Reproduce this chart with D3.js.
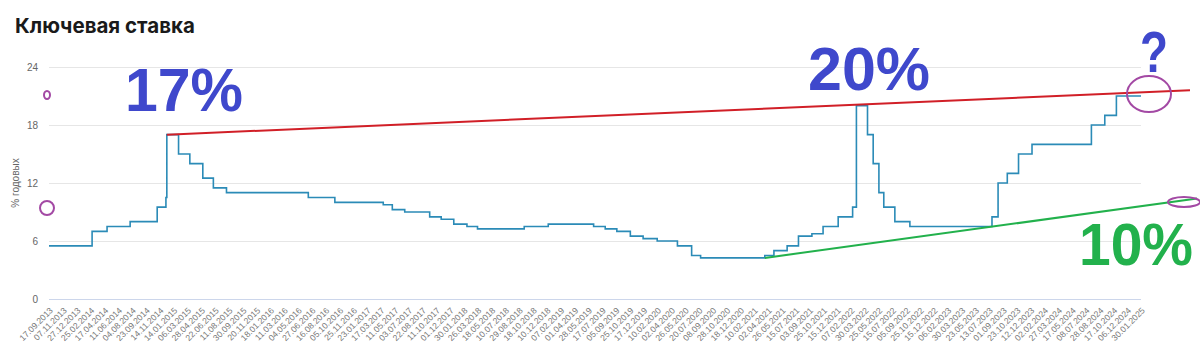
<!DOCTYPE html>
<html>
<head>
<meta charset="utf-8">
<script src="https://cdn.jsdelivr.net/npm/d3@7"></script>
<style>
  html, body { margin: 0; padding: 0; background: #fff; }
  svg { display: block; font-family: "Liberation Sans", Arial, sans-serif; }
</style>
</head>
<body>
<svg id="chart" width="1200" height="351"></svg>
<script>
// --- data
const tickLabels = ["17.09.2013","07.11.2013","27.12.2013","25.02.2014","17.04.2014","11.06.2014","04.08.2014","23.09.2014","14.11.2014","14.01.2015","06.03.2015","28.04.2015","22.06.2015","11.08.2015","30.09.2015","20.11.2015","18.01.2016","11.03.2016","04.05.2016","27.06.2016","16.08.2016","05.10.2016","25.11.2016","23.01.2017","17.03.2017","11.05.2017","03.07.2017","22.08.2017","11.10.2017","01.12.2017","30.01.2018","26.03.2018","18.05.2018","10.07.2018","29.08.2018","18.10.2018","10.12.2018","07.02.2019","01.04.2019","28.05.2019","17.07.2019","05.09.2019","25.10.2019","17.12.2019","10.02.2020","02.04.2020","26.05.2020","20.07.2020","08.09.2020","28.10.2020","18.12.2020","10.02.2021","02.04.2021","26.05.2021","15.07.2021","03.09.2021","25.10.2021","15.12.2021","07.02.2022","30.03.2022","25.05.2022","15.07.2022","05.09.2022","25.10.2022","15.12.2022","06.02.2023","30.03.2023","23.05.2023","13.07.2023","01.09.2023","23.10.2023","12.12.2023","02.02.2024","27.03.2024","17.05.2024","08.07.2024","28.08.2024","17.10.2024","06.12.2024","30.01.2025"];

const yTicks = [0, 6, 12, 18, 24];

// key rate change dates and levels (step series)
const rateDates = ["17.09.2013","03.03.2014","28.04.2014","28.07.2014","05.11.2014","12.12.2014","16.12.2014","02.02.2015","16.03.2015","05.05.2015","16.06.2015","03.08.2015","14.06.2016","19.09.2016","27.03.2017","02.05.2017","19.06.2017","18.09.2017","30.10.2017","18.12.2017","12.02.2018","26.03.2018","17.09.2018","17.12.2018","17.06.2019","29.07.2019","09.09.2019","28.10.2019","16.12.2019","10.02.2020","27.04.2020","22.06.2020","27.07.2020","22.03.2021","26.04.2021","15.06.2021","26.07.2021","13.09.2021","25.10.2021","20.12.2021","14.02.2022","28.02.2022","11.04.2022","04.05.2022","27.05.2022","14.06.2022","25.07.2022","19.09.2022","24.07.2023","15.08.2023","18.09.2023","30.10.2023","18.12.2023","29.07.2024","16.09.2024","28.10.2024","30.01.2025"];
const rateValues = [5.5,7.0,7.5,8.0,9.5,10.5,17.0,15.0,14.0,12.5,11.5,11.0,10.5,10.0,9.75,9.25,9.0,8.5,8.25,7.75,7.5,7.25,7.5,7.75,7.5,7.25,7.0,6.5,6.25,6.0,5.5,4.5,4.25,4.5,5.0,5.5,6.5,6.75,7.5,8.5,9.5,20.0,17.0,14.0,11.0,9.5,8.0,7.5,8.5,12.0,13.0,15.0,16.0,18.0,19.0,21.0,21.0];

// hand-drawn trend lines (date, value)
const redTrendDates = ["16.12.2014","13.08.2025"];
const redTrendValues = [17.0, 21.6];
const greenTrendDates = ["22.03.2021","10.09.2025"];
const greenTrendValues = [4.25, 10.4];

const parse = d3.timeParse("%d.%m.%Y");

// --- svg
const svg = d3.select("#chart");
const M = { top: 67, right: 59, bottom: 52, left: 49 };
const W = +svg.attr("width"), H = +svg.attr("height");
const innerW = W - M.left - M.right, innerH = H - M.top - M.bottom;

// ticks are evenly spaced (trading-day axis) -> piecewise time scale
const tickDates = tickLabels.map(parse);
const x = d3.scaleTime()
  .domain(tickDates)
  .range(tickDates.map((d, i) => M.left + i * innerW / (tickDates.length - 1)));
const y = d3.scaleLinear().domain([0, 24]).range([H - M.bottom, M.top]);

// title
svg.append("text").attr("x", 15).attr("y", 33)
  .style("font-family", "Inter, 'Open Sans', sans-serif")
  .style("font-weight", 700).style("font-size", "20.5px").style("fill", "#1a1a1a")
  .text("Ключевая ставка");

// grid + y labels
const gy = svg.append("g");
gy.selectAll("line").data(yTicks).join("line")
  .attr("x1", M.left).attr("x2", M.left + innerW)
  .attr("y1", d => y(d) + 0.5).attr("y2", d => y(d) + 0.5)
  .attr("stroke", d => d === 0 ? "#ccd6eb" : "#e6e6e6").attr("stroke-width", 1);
gy.selectAll("text").data(yTicks).join("text")
  .attr("x", 38).attr("y", d => y(d) + 4)
  .attr("text-anchor", "end").style("font-size", "10px").style("fill", "#666")
  .text(d => d);

svg.append("text")
  .attr("transform", `translate(19,${y(12)}) rotate(-90)`)
  .attr("text-anchor", "middle").style("font-size", "10px").style("fill", "#666")
  .text("% годовых");

// x axis labels
const gx = svg.append("g").attr("transform", `translate(0,${H - M.bottom})`)
  .call(d3.axisBottom(x).tickValues(tickDates).tickSize(0).tickFormat(d3.timeFormat("%d.%m.%Y")))
  .call(g => g.select(".domain").remove());
gx.selectAll(".tick text")
  .attr("text-anchor", "end")
  .attr("dy", null).attr("y", 0)
  .attr("transform", "translate(4,12) rotate(-45)")
  .style("font-size", "8.6px").style("fill", "#777")
  .style("font-family", "'Liberation Sans', Arial, sans-serif");

// series
const series = rateDates.map((d, i) => ({ date: parse(d), v: rateValues[i] }));
const line = d3.line().x(d => x(d.date)).y(d => y(d.v)).curve(d3.curveStepAfter);
svg.append("path").datum(series)
  .attr("fill", "none").attr("stroke", "#2b8bb7").attr("stroke-width", 1.6)
  .attr("d", line);

// trend overlays
const trend = d3.line().x(d => x(d.date)).y(d => y(d.v));
const red = redTrendDates.map((d, i) => ({ date: parse(d), v: redTrendValues[i] }));
const green = greenTrendDates.map((d, i) => ({ date: parse(d), v: greenTrendValues[i] }));
svg.append("path").datum(red).attr("fill", "none").attr("stroke", "#d11f27").attr("stroke-width", 2).attr("d", trend);
svg.append("path").datum(green).attr("fill", "none").attr("stroke", "#22b14c").attr("stroke-width", 2).attr("d", trend);

// big painted labels
const big = svg.append("g").style("font-family", "'Liberation Sans', Arial, sans-serif").style("font-weight", 700);
big.append("text").attr("x", 125).attr("y", 111).attr("textLength", 118).attr("lengthAdjust", "spacingAndGlyphs")
  .style("font-size", "61px").style("fill", "#3f48cc").text("17%");
big.append("text").attr("x", 808).attr("y", 90).attr("textLength", 122).attr("lengthAdjust", "spacingAndGlyphs")
  .style("font-size", "62px").style("fill", "#3f48cc").text("20%");
big.append("text").attr("x", 1079).attr("y", 265).attr("textLength", 114).attr("lengthAdjust", "spacingAndGlyphs")
  .style("font-size", "59px").style("fill", "#22b14c").text("10%");
big.append("text").attr("x", 1140).attr("y", 72).attr("textLength", 28).attr("lengthAdjust", "spacingAndGlyphs")
  .style("font-size", "58px").style("fill", "#3f48cc").text("?");

// purple marks
const marks = [
  { cx: 47, cy: 95, rx: 3, ry: 4 },
  { cx: 47, cy: 208, rx: 7, ry: 7 },
  { cx: 1149, cy: 94, rx: 22, ry: 18 },
  { cx: 1184, cy: 202, rx: 16, ry: 5 }
];
svg.append("g").selectAll("ellipse").data(marks).join("ellipse")
  .attr("cx", d => d.cx).attr("cy", d => d.cy).attr("rx", d => d.rx).attr("ry", d => d.ry)
  .attr("fill", "none").attr("stroke", "#a349a4").attr("stroke-width", 2);
</script>
</body>
</html>
